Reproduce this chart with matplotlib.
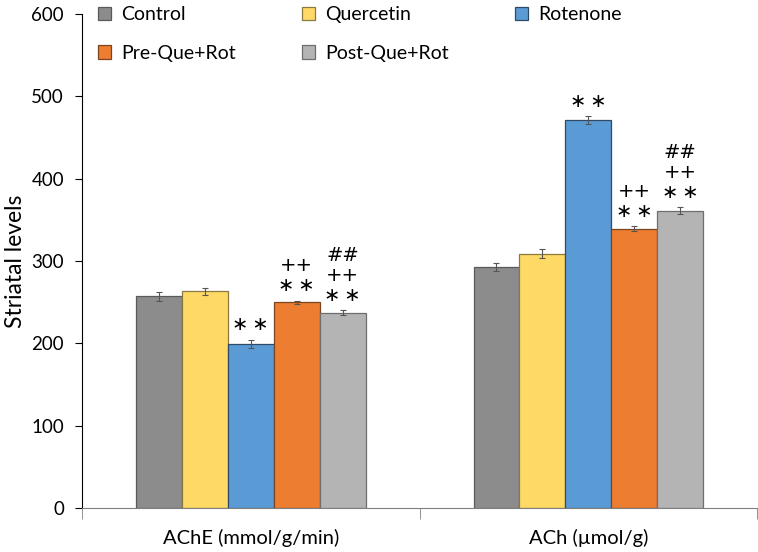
import matplotlib.pyplot as plt
import numpy as np

plt.rcParams['font.family'] = ['Lato', 'DejaVu Sans']

# ==================== data ====================
categories = ['AChE (mmol/g/min)', 'ACh (\u00b5mol/g)']
groups = ['Control', 'Quercetin', 'Rotenone', 'Pre-Que+Rot', 'Post-Que+Rot']
values = [
    [257, 293],   # Control
    [263, 309],   # Quercetin
    [199, 471],   # Rotenone
    [250, 339],   # Pre-Que+Rot
    [237, 361],   # Post-Que+Rot
]
errors = [
    [5, 5],
    [4, 5],
    [5, 5],
    [2, 3],
    [3, 4],
]
marks = [
    ['', ''],
    ['', ''],
    ['\u2217\u2009\u2217', '\u2217\u2009\u2217'],
    ['++\n\u2217\u2009\u2217', '++\n\u2217\u2009\u2217'],
    ['##\n++\n\u2217\u2009\u2217', '##\n++\n\u2217\u2009\u2217'],
]

colors = ['#8c8c8c', '#ffd966', '#5b9bd5', '#ed7d31', '#b4b4b4']
edges = ['#5a5a5a', '#8a7a40', '#2e4a66', '#7a4520', '#6e6e6e']

# ==================== figure ====================
fig = plt.figure(figsize=(7.58, 5.52), dpi=100)
ax = fig.add_axes([82 / 758, 1 - 508 / 552, 675 / 758, 494 / 552])

x = np.arange(len(categories))
w = 0.136
handles = []
for i, g in enumerate(groups):
    xs = x + (i - 2) * w
    b = ax.bar(xs, values[i], w, color=colors[i], edgecolor=edges[i], linewidth=0.9,
               label=g, zorder=2)
    handles.append(b)
    ax.errorbar(xs, values[i], yerr=errors[i], fmt='none', ecolor='#555555',
                elinewidth=0.8, capsize=2, capthick=0.8, zorder=3)
    for j in range(len(categories)):
        if marks[i][j]:
            ax.annotate(marks[i][j], (xs[j], values[i][j] + errors[i][j]),
                        xytext=(0, 4), textcoords='offset points',
                        ha='center', va='bottom', fontsize=14,
                        linespacing=1.05,
                        family=['DejaVu Sans'])

ax.set_xlim(-0.5, 1.5)
ax.set_ylim(0, 600)
ax.set_yticks(range(0, 601, 100))
ax.tick_params(axis='y', labelsize=13.5, length=5, direction='out', pad=8)
ax.set_xticks(x)
ax.set_xticklabels(categories, fontsize=14.5)
ax.tick_params(axis='x', length=0, pad=15)
ax.set_xticks([-0.5, 0.5, 1.5], minor=True)
ax.tick_params(axis='x', which='minor', length=8, color='#808080')

ax.set_ylabel('Striatal levels', fontsize=16.5, labelpad=4)

for s in ['top', 'right']:
    ax.spines[s].set_visible(False)
ax.spines['bottom'].set_color('#808080')

# legend fills column-wise, so reorder to read row-wise
order = [0, 3, 1, 4, 2]
fig.legend([handles[k] for k in order], [groups[k] for k in order],
           loc='upper left', bbox_to_anchor=(86 / 758, 1.01), ncol=3,
           frameon=False, fontsize=14, handlelength=0.7, handleheight=0.7,
           handletextpad=0.5, columnspacing=3.4, labelspacing=1.1, borderpad=0.1)

plt.savefig('out.png', dpi=100)
